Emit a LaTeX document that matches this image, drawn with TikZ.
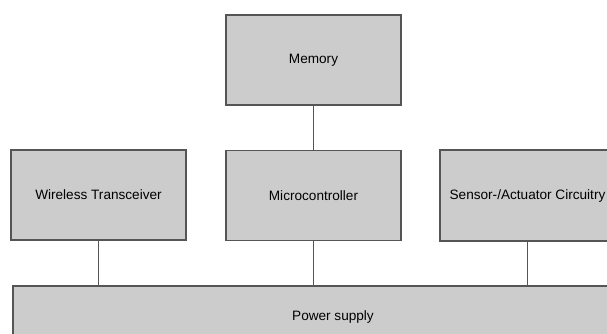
\documentclass[tikz,border=0pt]{standalone}
\usepackage{fontspec}
\setmainfont{Liberation Sans}
\definecolor{boxfill}{HTML}{CCCCCC}
\definecolor{boxline}{HTML}{555555}
\begin{document}
\begin{tikzpicture}[x=1pt,y=-1pt,
  blockbox/.style={draw=boxline, line width=1.3pt, fill=boxfill, rectangle, inner sep=0pt, font=\fontsize{13.6}{16}\selectfont},
  link/.style={draw=boxline, line width=1.3pt}]
\useasboundingbox (0,0) rectangle (607,334);
\clip (0,0) rectangle (607,334);
\node[blockbox, minimum width=175pt, minimum height=90pt] (mem) at (313.5,60) {Memory};
\node[blockbox, minimum width=175pt, minimum height=90pt] (mcu) at (313.5,195.5) {Microcontroller};
\node[blockbox, minimum width=175pt, minimum height=90pt] (wt) at (98.5,195) {Wireless Transceiver};
\node[blockbox, minimum width=175pt, minimum height=91pt] (sac) at (527.5,195.5) {Sensor-/Actuator Circuitry};
\node[blockbox, minimum width=640pt, minimum height=62pt] (ps) at (333,317) {Power supply};
\path[link] (mem.south) -- (mcu.north);
\path[link] (wt.south) -- (wt.south |- ps.north);
\path[link] (mcu.south) -- (mcu.south |- ps.north);
\path[link] (sac.south) -- (sac.south |- ps.north);
\end{tikzpicture}
\end{document}
